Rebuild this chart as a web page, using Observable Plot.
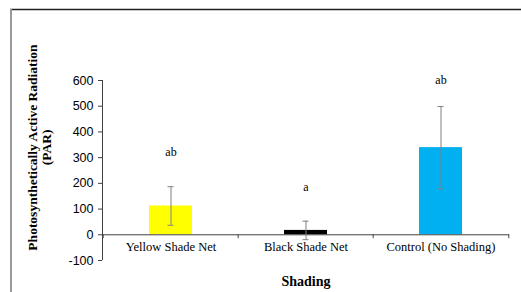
<!DOCTYPE html>
<html>
<head>
<meta charset="utf-8">
<script src="https://cdn.jsdelivr.net/npm/d3@7"></script>
<script src="https://cdn.jsdelivr.net/npm/@observablehq/plot@0.6"></script>
<style>
  html, body { margin: 0; padding: 0; background: #fff; }
  svg { display: block; }
</style>
</head>
<body>
<div id="chart"></div>
<script>
const categories = ["Yellow Shade Net", "Black Shade Net", "Control (No Shading)"];
const means = [112, 17, 339];
const errors = [75, 36, 160];
const letters = ["ab", "a", "ab"];
const letterPos = [320, 185, 600];
const colors = ["#FFFF00", "#000000", "#00B0F0"];
const yTicks = [-100, 0, 100, 200, 300, 400, 500, 600];

const data = categories.map((c, i) => ({
  cat: c, mean: means[i], err: errors[i], letter: letters[i], ly: letterPos[i], color: colors[i]
}));

const W = 521, H = 292, mL = 102, mR = 12, mT = 80, mB = 32;
const step = (W - mL - mR) / categories.length;
const serif = "'Liberation Serif', 'Times New Roman', serif";

const plot = Plot.plot({
  width: W,
  height: H,
  marginLeft: mL,
  marginRight: mR,
  marginTop: mT,
  marginBottom: mB,
  style: { fontFamily: "'Liberation Sans', Arial, sans-serif", fontSize: "12.5px", background: "#fff", color: "#000" },
  x: { domain: categories, paddingInner: 0.68, paddingOuter: 0.34, axis: null },
  y: { domain: [-100, 600], axis: null },
  marks: [
    Plot.axisY({ ticks: yTicks, tickSize: 4, tickPadding: 5, label: null, stroke: "#404040", fill: "#000", fontSize: 12.5, tickFormat: d => String(d) }),
    Plot.barY(data, { x: "cat", y: "mean", fill: "color" }),
    Plot.ruleY([0], { stroke: "#404040" }),
    Plot.ruleX(data, { x: "cat", y1: 0, y2: -15, dx: -step / 2, stroke: "#404040" }),
    Plot.ruleX([categories[categories.length - 1]], { x: d => d, y1: 0, y2: -15, dx: step / 2, stroke: "#404040" }),
    Plot.ruleX(data, { x: "cat", y1: d => d.mean - d.err, y2: d => d.mean + d.err, stroke: "#808080", strokeWidth: 1 }),
    Plot.tickY(data, { x: "cat", y: d => d.mean + d.err, stroke: "#808080", insetLeft: 18.5, insetRight: 18.5 }),
    Plot.tickY(data, { x: "cat", y: d => d.mean - d.err, stroke: "#808080", insetLeft: 18.5, insetRight: 18.5 }),
    Plot.text(data, { x: "cat", y: "ly", text: "letter", fontFamily: serif, fontSize: 12, fill: "#000" }),
    Plot.text(data, { x: "cat", y: 0, dy: 12, text: "cat", fontFamily: serif, fontSize: 12.5, fill: "#000" }),
    Plot.text(["Shading"], { frameAnchor: "bottom", dy: 21, lineAnchor: "middle", text: d => d, fontFamily: serif, fontSize: 14, fontWeight: "bold", fill: "#000" }),
    Plot.text(["Photosynthetically Active Radiation"], { frameAnchor: "left", textAnchor: "middle", lineAnchor: "middle", dx: -70, dy: -23, rotate: -90, text: d => d, fontFamily: serif, fontSize: 13.5, fontWeight: "bold", fill: "#000" }),
    Plot.text(["(PAR)"], { frameAnchor: "left", textAnchor: "middle", lineAnchor: "middle", dx: -56, dy: -23, rotate: -90, text: d => d, fontFamily: serif, fontSize: 13.5, fontWeight: "bold", fill: "#000" })
  ]
});

const svg = d3.select(plot);
const ys = plot.scale("y");
svg.append("line").attr("x1", mL + 0.5).attr("x2", mL + 0.5)
  .attr("y1", ys.apply(600)).attr("y2", ys.apply(-100)).attr("stroke", "#404040");
svg.append("line").attr("x1", 10).attr("x2", W).attr("y1", 9.5).attr("y2", 9.5).attr("stroke", "#222").attr("stroke-width", 1.5);
svg.append("line").attr("x1", 11).attr("x2", 11).attr("y1", 9).attr("y2", H).attr("stroke", "#999").attr("stroke-width", 2);

document.getElementById("chart").appendChild(plot);
</script>
</body>
</html>
